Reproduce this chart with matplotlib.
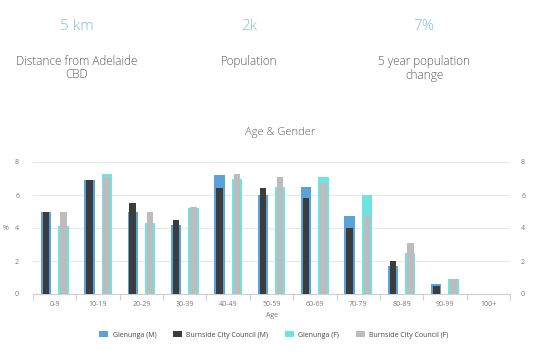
import matplotlib
matplotlib.use("Agg")
import matplotlib.pyplot as plt
import numpy as np

plt.rcParams['font.family'] = ['Open Sans', 'DejaVu Sans']

categories = ["0-9", "10-19", "20-29", "30-39", "40-49", "50-59", "60-69",
              "70-79", "80-89", "90-99", "100+"]
glenunga_m = [5.0, 6.9, 5.0, 4.2, 7.2, 6.0, 6.5, 4.7, 1.7, 0.6, 0.0]
burnside_m = [5.0, 6.9, 5.5, 4.5, 6.4, 6.4, 5.8, 4.0, 2.0, 0.5, 0.0]
glenunga_f = [4.1, 7.3, 4.3, 5.2, 7.0, 6.5, 7.1, 6.0, 2.5, 0.9, 0.0]
burnside_f = [5.0, 7.1, 5.0, 5.3, 7.3, 7.1, 6.7, 4.7, 3.1, 0.9, 0.0]
series_names = ["Glenunga (M)", "Burnside City Council (M)",
                "Glenunga (F)", "Burnside City Council (F)"]
y_ticks = [0, 2, 4, 6, 8]

stats_values = ["5 km", "2k", "7%"]
stats_labels = ["Distance from Adelaide\nCBD", "Population", "5 year population\nchange"]

c_blue = "#5aa2da"
c_dark = "#3c3c3c"
c_cyan = "#6fe3e3"
c_grey = "#bcbcbc"
txt = "#777777"

W, H = 553, 356
fig = plt.figure(figsize=(W / 100, H / 100), dpi=100)
fig.patch.set_facecolor("white")

# top stats
xs = [77, 249, 424]
for x, v, l in zip(xs, stats_values, stats_labels):
    fig.text(x / W, 1 - 27 / H, v, ha="center", va="center", fontsize=11,
             color="#8bbbe2", fontweight=300)
    fig.text(x / W, 1 - 55 / H, l, ha="center", va="top", fontsize=8.5,
             color="#5a5a5a", linespacing=1.05, fontweight=300)

fig.text(280 / W, 1 - 132 / H, "Age & Gender", ha="center", va="center",
         fontsize=8, color="#5a5a5a", fontweight=300)

left, right = 33, 510
top, bottom = 162, 294
ax = fig.add_axes([left / W, 1 - bottom / H, (right - left) / W, (bottom - top) / H])
x = np.arange(len(categories))
wide, narrow, off = 0.24, 0.15, 0.2
ax.bar(x - off, glenunga_m, width=wide, color=c_blue, zorder=2, label=series_names[0])
ax.bar(x - off, burnside_m, width=narrow, color=c_dark, zorder=3, label=series_names[1])
ax.bar(x + off, glenunga_f, width=wide, color=c_cyan, zorder=2, label=series_names[2])
ax.bar(x + off, burnside_f, width=narrow, color=c_grey, zorder=3, label=series_names[3])

ax.set_xlim(-0.5, len(categories) - 0.5)
ax.set_ylim(0, 8)
ax.set_yticks(y_ticks)
ax.grid(axis="y", color="#e8e8e8", linewidth=0.8, zorder=0)
for s in ["top", "right", "left"]:
    ax.spines[s].set_visible(False)
ax.spines["bottom"].set_color("#cfcfcf")
ax.spines["bottom"].set_linewidth(0.8)
ax.set_xticks(x)
ax.set_xticklabels(categories)
ax.set_xticks(np.arange(-0.5, len(categories)), minor=True)
ax.tick_params(axis="x", which="major", length=0, labelsize=5, colors=txt, pad=5)
ax.tick_params(axis="x", which="minor", length=4, color="#cfcfcf", width=0.8)
ax.tick_params(axis="y", length=0, labelsize=5, colors=txt, pad=10)
ax.set_ylabel("%", fontsize=5, color=txt, rotation=0, labelpad=7, va="center")
ax.set_xlabel("Age", fontsize=5, color=txt, labelpad=3)

ax2 = ax.twinx()
ax2.set_ylim(0, 8)
ax2.set_yticks(y_ticks)
for s in ax2.spines.values():
    s.set_visible(False)
ax2.tick_params(axis="y", length=0, labelsize=5, colors=txt, pad=8)

handles, labels = ax.get_legend_handles_labels()
fig.legend(handles, labels, loc="center", bbox_to_anchor=(0.495, 1 - 335 / H), ncol=4,
           frameon=False, fontsize=5, labelcolor="#444444", handlelength=1.3,
           handleheight=1.0, columnspacing=2.4, handletextpad=0.6)

fig.savefig("out.png", dpi=100, facecolor="white")
